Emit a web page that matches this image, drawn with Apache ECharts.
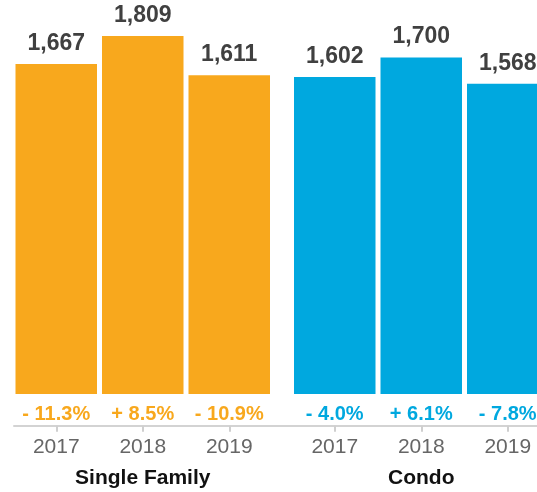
<!DOCTYPE html>
<html>
<head>
<meta charset="utf-8">
<style>
  html, body { margin: 0; padding: 0; background: #ffffff; }
  #chart { width: 537px; height: 492px; }
</style>
<script src="https://cdn.jsdelivr.net/npm/echarts@6/dist/echarts.min.js"></script>
</head>
<body>
<div id="chart"></div>
<script>
// Median sales values by year for each property type
const years = ['2017', '2018', '2019'];
const singleFamily = [1667, 1809, 1611];
const condo = [1602, 1700, 1568];
// Year-over-year percent change
const singleFamilyChange = [-11.3, 8.5, -10.9];
const condoChange = [-4.0, 6.1, -7.8];
const groupNames = ['Single Family', 'Condo'];

const ORANGE = '#F8A81D';
const BLUE = '#00A8DF';
const FONT = '"Liberation Sans", Arial, Helvetica, sans-serif';

const fmtValue = v => v.toLocaleString('en-US');
const fmtChange = v => (v < 0 ? '- ' : '+ ') + Math.abs(v).toFixed(1) + '%';

const GRID_TOP = 18, GRID_BOTTOM = 98, GROUP_W = 259.5;
const AXIS_OFFSET = 31.7;

function yearAxis(gridIndex, name) {
  return {
    type: 'category', gridIndex, data: years, position: 'bottom',
    offset: AXIS_OFFSET,
    axisLine: { show: false, onZero: false },
    axisTick: { show: true, alignWithLabel: true, length: 6,
                lineStyle: { color: '#cfcfcf', width: 2 } },
    axisLabel: { interval: 0, margin: 11, fontSize: 21, color: '#666666', fontFamily: FONT },
    name, nameLocation: 'middle', nameGap: 42,
    nameTextStyle: { fontSize: 21, fontWeight: 'bold', color: '#111111', fontFamily: FONT }
  };
}
function changeAxis(gridIndex, changes, color) {
  return {
    type: 'category', gridIndex, data: changes.map(fmtChange), position: 'bottom',
    offset: 0,
    axisLine: { show: false, onZero: false }, axisTick: { show: false },
    axisLabel: { interval: 0, hideOverlap: false, margin: 10, fontSize: 20,
                 fontWeight: 'bold', color, fontFamily: FONT }
  };
}
function barSeries(xAxisIndex, yAxisIndex, data, color) {
  return {
    type: 'bar', xAxisIndex, yAxisIndex, data, barWidth: 81.5,
    itemStyle: { color },
    label: { show: true, position: 'top', distance: 9, formatter: p => fmtValue(p.value),
             fontSize: 23, fontWeight: 'bold', color: '#404040', fontFamily: FONT },
    silent: true
  };
}
const valueAxis = gridIndex => ({ type: 'value', gridIndex, min: 0, max: 1900, show: false });

const chart = echarts.init(document.getElementById('chart'), null, { renderer: 'canvas' });
chart.setOption({
  animation: false,
  backgroundColor: '#ffffff',
  grid: [
    { left: 13, width: GROUP_W, top: GRID_TOP, bottom: GRID_BOTTOM, outerBoundsMode: 'none' },
    { left: 291.5, width: GROUP_W, top: GRID_TOP, bottom: GRID_BOTTOM, outerBoundsMode: 'none' },
    { left: 14, right: 0, top: GRID_TOP, bottom: GRID_BOTTOM, outerBoundsMode: 'none' }
  ],
  xAxis: [
    yearAxis(0, groupNames[0]),
    changeAxis(0, singleFamilyChange, ORANGE),
    yearAxis(1, groupNames[1]),
    changeAxis(1, condoChange, BLUE),
    // shared baseline running under both groups
    { type: 'value', gridIndex: 2, offset: AXIS_OFFSET, position: 'bottom',
      axisLine: { show: true, onZero: false, lineStyle: { color: '#d3d3d3', width: 2 } },
      axisTick: { show: false }, axisLabel: { show: false }, splitLine: { show: false } }
  ],
  yAxis: [valueAxis(0), valueAxis(1), valueAxis(2)],
  series: [
    barSeries(0, 0, singleFamily, ORANGE),
    barSeries(2, 1, condo, BLUE)
  ]
});
</script>
</body>
</html>
